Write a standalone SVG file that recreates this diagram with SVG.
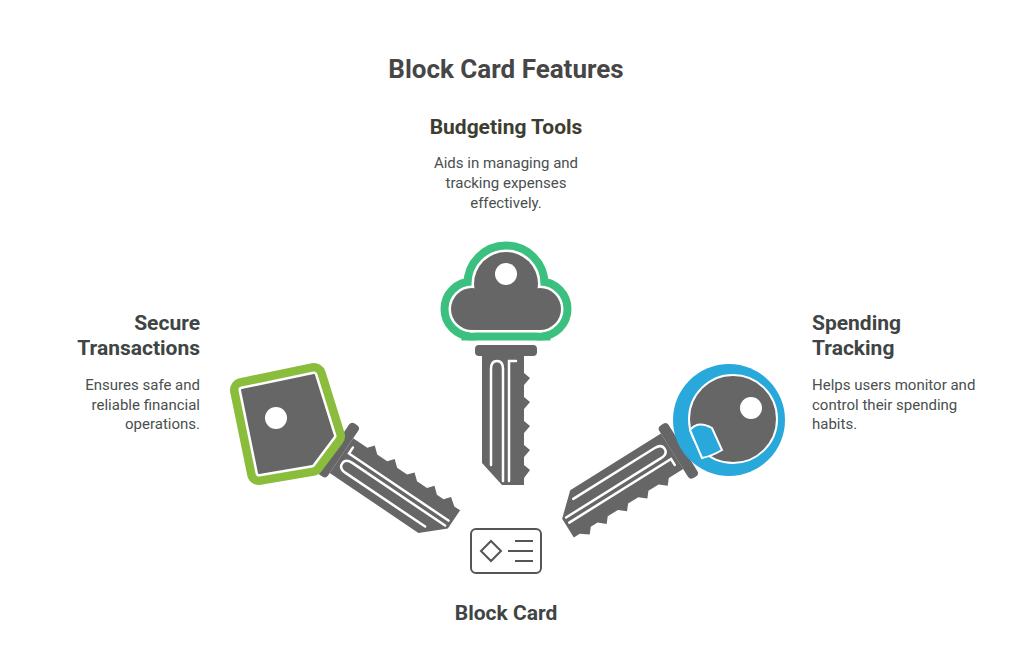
<svg xmlns="http://www.w3.org/2000/svg" xmlns:xlink="http://www.w3.org/1999/xlink" width="1024" height="654" viewBox="0 0 1024 654">
<style>
text{font-family:Roboto,"Liberation Sans",sans-serif}
.t{font-weight:bold;font-size:21px;fill:#3f4444}
.d{font-size:15px;fill:#4a4f4f}
.g{fill:#666}
.w{fill:none;stroke:#fff;stroke-width:2.5;stroke-linecap:round}
</style>
<defs>
<g id="blade">
<rect x="-31" y="0" width="62" height="11" rx="4" class="g"/>
<path class="g" d="M-24 11 H18 V28 L24 33 L18 40 V52 L24 57 L18 64 V76 L24 81 L18 88 V100 L24 105 L18 112 V120 L24 125 L18 133 V140 L-4 140 L-24 118 Z"/>
<path class="w" d="M-15 120 V24 Q-15 16 -9 16 Q-3 16 -3 24 V136"/>
<path class="w" d="M3 136 V16 H10"/>
</g>
</defs>
<rect width="1024" height="654" fill="#fff"/>
<text x="506" y="78" text-anchor="middle" style="font-weight:bold;font-size:26px;fill:#464646">Block Card Features</text>

<g id="budgeting">
<g fill="#3cc07f" stroke="#3cc07f" stroke-width="21"><circle cx="506" cy="284" r="32"/><circle cx="472" cy="309" r="21"/><circle cx="540" cy="309" r="21"/><rect x="472" y="300" width="68" height="30"/></g>
<g fill="#fff" stroke="#fff" stroke-width="5"><circle cx="506" cy="284" r="32"/><circle cx="472" cy="309" r="21"/><circle cx="540" cy="309" r="21"/><rect x="472" y="300" width="68" height="30"/></g>
<g class="g"><circle cx="506" cy="284" r="32"/><circle cx="472" cy="309" r="21"/><circle cx="540" cy="309" r="21"/><rect x="472" y="300" width="68" height="30"/></g>
<circle cx="506" cy="274" r="11" fill="#fff"/>
<use xlink:href="#blade" transform="translate(506,345)"/>
<text x="506" y="134" text-anchor="middle" class="t" style="fill:#3d3d30">Budgeting Tools</text>
<text x="506" y="168" text-anchor="middle" class="d">Aids in managing and</text>
<text x="506" y="188" text-anchor="middle" class="d">tracking expenses</text>
<text x="506" y="208" text-anchor="middle" class="d">effectively.</text>
</g>

<g id="secure">
<use xlink:href="#blade" transform="translate(334,447) rotate(-56)"/>
<path d="M242 390 L314 375 L333 436 L312 464 L259 473 Z" fill="#8bbd3d" stroke="#8bbd3d" stroke-width="24" stroke-linejoin="round"/>
<path d="M242 390 L314 375 L333 436 L312 464 L259 473 Z" fill="#fff" stroke="#fff" stroke-width="7" stroke-linejoin="round"/>
<path d="M242 390 L314 375 L333 436 L312 464 L259 473 Z" fill="#666" stroke="#666" stroke-width="2" stroke-linejoin="round"/>
<circle cx="276" cy="418" r="11" fill="#fff"/>
<text x="200" y="330" text-anchor="end" class="t">Secure</text>
<text x="200" y="355" text-anchor="end" class="t">Transactions</text>
<text x="200" y="390" text-anchor="end" class="d">Ensures safe and</text>
<text x="200" y="410" text-anchor="end" class="d">reliable financial</text>
<text x="200" y="429" text-anchor="end" class="d">operations.</text>
</g>

<g id="spending">
<use xlink:href="#blade" transform="translate(683,448) rotate(58)"/>
<circle cx="729" cy="420" r="56" fill="#29a8dc"/>
<circle cx="733" cy="419" r="44" fill="#666" stroke="#fff" stroke-width="2"/>
<path d="M690 430 Q698 420 712 428 L722 450 Q712 456 702 458 Z" fill="#29a8dc" stroke="#fff" stroke-width="2"/>
<circle cx="751" cy="408" r="11" fill="#fff"/>
<text x="812" y="330" class="t">Spending</text>
<text x="812" y="355" class="t">Tracking</text>
<text x="812" y="390" class="d">Helps users monitor and</text>
<text x="812" y="410" class="d">control their spending</text>
<text x="812" y="429" class="d">habits.</text>
</g>

<g id="card">
<rect x="471" y="529" width="70" height="44" rx="5" fill="none" stroke="#555" stroke-width="2"/>
<path d="M491 541 L501 551 L491 561 L481 551 Z" fill="none" stroke="#555" stroke-width="2"/>
<path d="M515 541 H533 M508 551 H533 M515 561 H533" stroke="#555" stroke-width="2"/>
<text x="506" y="620" text-anchor="middle" class="t">Block Card</text>
</g>
<g id="connectors"/>
</svg>
